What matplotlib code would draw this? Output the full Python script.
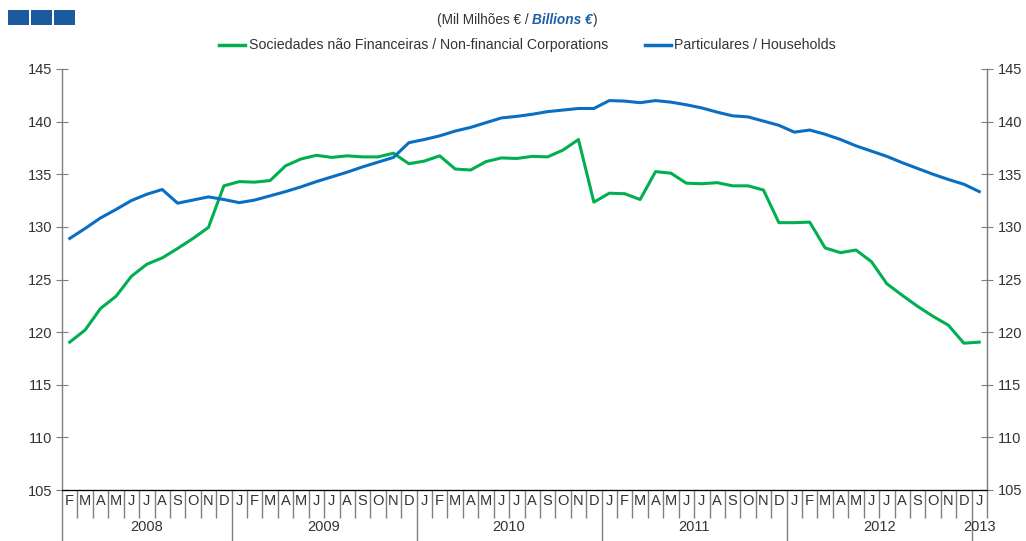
import numpy as np
import matplotlib.pyplot as plt
from matplotlib.patches import Rectangle

plt.rcParams['font.family'] = ['Liberation Sans', 'DejaVu Sans']

# monthly data, Feb 2008 .. Jan 2013
months = ['F', 'M', 'A', 'M', 'J', 'J', 'A', 'S', 'O', 'N', 'D'] + \
         ['J', 'F', 'M', 'A', 'M', 'J', 'J', 'A', 'S', 'O', 'N', 'D'] * 4 + ['J']
years = ['2008', '2009', '2010', '2011', '2012', '2013']
year_len = [11, 12, 12, 12, 12, 1]

nfc = [119.05, 120.2, 122.25, 123.4, 125.3, 126.45, 127.05, 127.95, 128.9, 129.95,
       133.9, 134.3, 134.25, 134.4, 135.8, 136.45, 136.8, 136.6, 136.75, 136.65, 136.65, 137.0, 136.0,
       136.25, 136.75, 135.5, 135.4, 136.2, 136.55, 136.5, 136.7, 136.65, 137.3, 138.3, 132.35,
       133.2, 133.15, 132.6, 135.25, 135.1, 134.15, 134.1, 134.2, 133.9, 133.9, 133.5, 130.4,
       130.4, 130.45, 128.0, 127.55, 127.8, 126.7, 124.6, 123.5, 122.45, 121.5, 120.65, 118.95,
       119.05]
households = [128.9, 129.85, 130.85, 131.65, 132.5, 133.1, 133.55, 132.25, 132.55, 132.85,
              132.6, 132.3, 132.55, 132.95, 133.35, 133.8, 134.3, 134.75, 135.2, 135.7, 136.15, 136.6, 138.0,
              138.3, 138.65, 139.1, 139.45, 139.9, 140.35, 140.5, 140.7, 140.95, 141.1, 141.25, 141.25,
              142.0, 141.95, 141.8, 142.0, 141.85, 141.6, 141.3, 140.9, 140.55, 140.45, 140.05, 139.65,
              139.0, 139.2, 138.8, 138.3, 137.7, 137.2, 136.7, 136.1, 135.55, 135.0, 134.5, 134.05,
              133.35]

green = '#00b050'
blue = '#0a6fc2'
axc = '#7f7f7f'
txt = '#333333'

W, H = 1026, 541
fig = plt.figure(figsize=(W / 100, H / 100), dpi=100)
ax = fig.add_axes([62 / W, 1 - 490 / H, (987 - 62) / W, (490 - 69) / H])

x = np.arange(len(months)) + 0.5
ax.plot(x, nfc, color=green, lw=2.2)
ax.plot(x, households, color=blue, lw=2.2)

ax.set_xlim(0, len(months))
ax.set_ylim(105, 145)
ax.set_yticks(np.arange(105, 146, 5))
ax.spines['top'].set_visible(False)
for s in ['left', 'right', 'bottom']:
    ax.spines[s].set_color(axc)
    ax.spines[s].set_linewidth(1.0)
ax.tick_params(axis='y', direction='inout', length=8, color=axc, labelsize=10.5, labelcolor=txt, pad=3)

# right-hand copy of the value axis
ax2 = ax.twinx()
ax2.set_ylim(105, 145)
ax2.set_yticks(np.arange(105, 146, 5))
ax2.spines['top'].set_visible(False)
ax2.spines['right'].set_color(axc)
ax2.spines['left'].set_visible(False)
ax2.tick_params(axis='y', direction='inout', length=8, color=axc, labelsize=10.5, labelcolor=txt, pad=4)

# x axis: month separators (minor) and year separators (major)
bounds = np.cumsum([0] + year_len)
ax.set_xticks(bounds[:-1])
ax.set_xticks(np.arange(len(months) + 1), minor=True)
ax.tick_params(axis='x', which='major', direction='out', length=37, color=axc, width=1.0, labelbottom=False)
ax.tick_params(axis='x', which='minor', direction='out', length=20, color=axc, width=1.0, labelbottom=False)

tr = ax.get_xaxis_transform()
for i, m in enumerate(months):
    ax.text(i + 0.5, -0.027, m, transform=tr, ha='center', va='center', fontsize=10.5, color=txt)
for k, yr in enumerate(years):
    c = (bounds[k] + bounds[k + 1]) / 2
    ax.text(c, -0.088, yr, transform=tr, ha='center', va='center', fontsize=10.5, color=txt)

# legend
fig.lines.append(plt.Line2D([219 / W, 245 / W], [1 - 45 / H] * 2, color=green, lw=2.5, transform=fig.transFigure))
fig.text(249 / W, 1 - 45 / H, 'Sociedades não Financeiras / Non-financial Corporations',
         ha='left', va='center', fontsize=10.2, color=txt)
fig.lines.append(plt.Line2D([645 / W, 671 / W], [1 - 45 / H] * 2, color=blue, lw=2.5, transform=fig.transFigure))
fig.text(674 / W, 1 - 45 / H, 'Particulares / Households', ha='left', va='center', fontsize=10.2, color=txt)

# units title
t1 = fig.text(437 / W, 1 - 20 / H, '(Mil Milhões € / ', ha='left', va='center', fontsize=9.8, color=txt)
fig.canvas.draw()
bb = t1.get_window_extent()
t2 = fig.text(bb.x1 / W, 1 - 20 / H, 'Billions €', ha='left', va='center', fontsize=9.8,
              color='#1f5fa8', fontweight='bold', fontstyle='italic')
bb2 = t2.get_window_extent()
fig.text(bb2.x1 / W, 1 - 20 / H, ')', ha='left', va='center', fontsize=9.8, color=txt)

# logo squares
for x0 in [8, 31, 54]:
    fig.patches.append(Rectangle((x0 / W, 1 - 25 / H), 21 / W, 15 / H, transform=fig.transFigure,
                                 facecolor='#1b5a9e', edgecolor='none'))

fig.savefig('out.png', dpi=100)
